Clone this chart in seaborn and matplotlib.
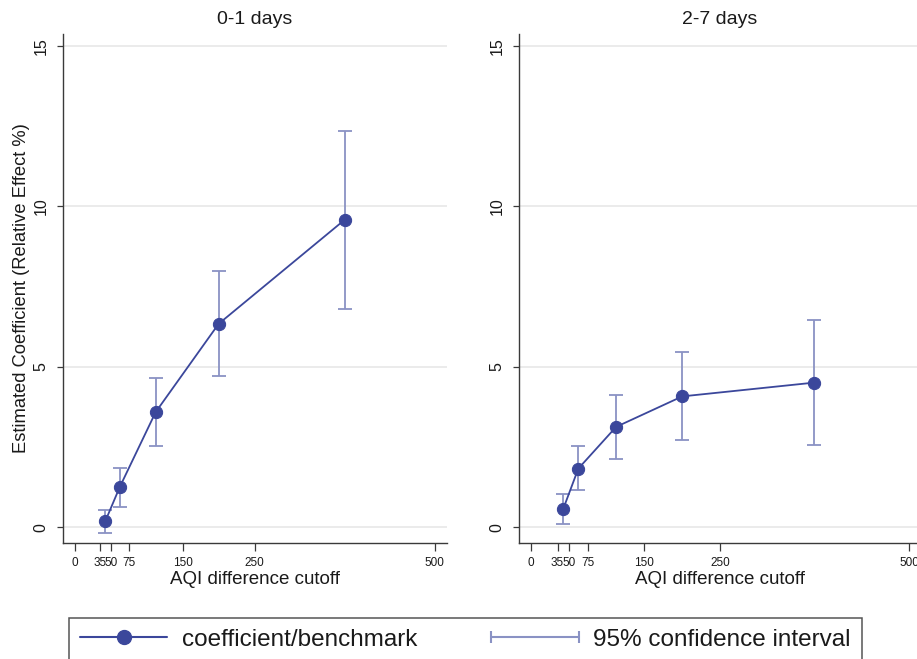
import numpy as np
import pandas as pd
import matplotlib
matplotlib.use("Agg")
import matplotlib.pyplot as plt
from matplotlib.lines import Line2D
from matplotlib.legend_handler import HandlerLine2D
import seaborn as sns

# AQI difference bins: tick marks and the point plotted for each bin
tick_values = [0, 35, 50, 75, 150, 250, 500]
tick_labels = ["0", "35", "50", "75", "150", "250", "500"]
bin_x = [42.5, 62.5, 112.5, 200, 375]

# 0-1 days
coef_01 = [0.19, 1.25, 3.59, 6.34, 9.58]
lo_01 = [-0.16, 0.65, 2.53, 4.71, 6.81]
hi_01 = [0.54, 1.85, 4.66, 7.97, 12.34]

# 2-7 days
coef_27 = [0.57, 1.83, 3.13, 4.08, 4.51]
lo_27 = [0.11, 1.15, 2.14, 2.71, 2.56]
hi_27 = [1.04, 2.53, 4.11, 5.46, 6.47]

panel_titles = ["0-1 days", "2-7 days"]
y_ticks = [0, 5, 10, 15]

sns.set_style("white")
plt.rcParams["font.family"] = ["Liberation Sans", "DejaVu Sans"]

LINE_C = "#3b479b"
CI_C = "#8a92c4"
TXT_C = "#1a1a1a"
SPINE_C = "#3a3a3a"

W, H = 917, 659
fig = plt.figure(figsize=(W / 100, H / 100), dpi=100)
fig.patch.set_facecolor("white")


def rect(x0, x1, y0=34.5, y1=542.5):
    return [x0 / W, 1 - y1 / H, (x1 - x0) / W, (y1 - y0) / H]


ax1 = fig.add_axes(rect(62.7, 446.7))
ax2 = fig.add_axes(rect(518.5, 921.6))

panels = [
    (ax1, coef_01, lo_01, hi_01),
    (ax2, coef_27, lo_27, hi_27),
]

for i, (ax, coef, lo, hi) in enumerate(panels):
    df = pd.DataFrame({"cutoff": bin_x, "coef": coef, "lo": lo, "hi": hi})
    yerr = np.vstack([df["coef"] - df["lo"], df["hi"] - df["coef"]])
    ax.errorbar(df["cutoff"], df["coef"], yerr=yerr, fmt="none",
                ecolor=CI_C, elinewidth=1.3, capsize=5, capthick=1.3,
                zorder=2)
    sns.lineplot(data=df, x="cutoff", y="coef", ax=ax, color=LINE_C,
                 linewidth=1.3, marker="o", markersize=8.8,
                 markeredgecolor=LINE_C, markerfacecolor=LINE_C,
                 sort=False, zorder=3, legend=False)

    ax.set_xlim(-16.6, 516.7)
    ax.set_ylim(-0.47, 15.35)
    ax.set_xticks(tick_values)
    ax.set_xticklabels(tick_labels)
    ax.set_yticks(y_ticks)
    ax.set_yticklabels([str(v) for v in y_ticks])

    ax.grid(axis="y", color="#e6e6e6", linewidth=1.1)
    ax.grid(axis="x", visible=False)
    ax.set_axisbelow(True)
    for side in ["top", "right"]:
        ax.spines[side].set_visible(False)
    for side in ["left", "bottom"]:
        ax.spines[side].set_color(SPINE_C)
        ax.spines[side].set_linewidth(1.0)

    ax.tick_params(axis="x", direction="out", length=6, width=0.9,
                   color=SPINE_C, pad=4.5, labelsize=8.5, labelcolor=TXT_C,
                   bottom=True)
    ax.tick_params(axis="y", direction="out", length=4, width=0.9,
                   color=SPINE_C, pad=6, labelsize=11.5, labelcolor=TXT_C,
                   labelrotation=90, left=True)
    for lab in ax.get_yticklabels():
        lab.set_va("center")

    ax.set_xlabel("AQI difference cutoff", fontsize=13.5, color=TXT_C,
                  labelpad=1.5)
    if i == 0:
        ax.set_ylabel("Estimated Coefficient (Relative Effect %)",
                      fontsize=13.2, color=TXT_C, labelpad=3)
    else:
        ax.set_ylabel("")

    cx = (ax.get_position().x0 + ax.get_position().x1) / 2
    fig.text(cx, 1 - 20 / H, panel_titles[i], ha="center", va="center",
             fontsize=14, color=TXT_C)

# Shared legend below the panels
coef_handle = Line2D([], [], color=LINE_C, linewidth=1.5, marker="o",
                     markersize=10, markerfacecolor=LINE_C,
                     markeredgecolor=LINE_C)
ci_handle = Line2D([], [], color=CI_C, linewidth=1.5, marker="|",
                   markersize=9, markeredgewidth=1.5)
leg = fig.legend(
    [coef_handle, ci_handle],
    ["coefficient/benchmark", "95% confidence interval"],
    loc="upper left",
    bbox_to_anchor=(69 / W, 1 - 617.7 / H, (861.7 - 69) / W, 0.0),
    mode="expand", ncol=2, borderaxespad=0, fontsize=17.5,
    handlelength=3.6, handletextpad=0.6, borderpad=0.45,
    fancybox=False, frameon=True,
    handler_map={ci_handle: HandlerLine2D(numpoints=2, marker_pad=0)},
)
leg.get_frame().set_edgecolor("#2a2a2a")
leg.get_frame().set_linewidth(1.1)
for t in leg.get_texts():
    t.set_color(TXT_C)

fig.savefig("out.png", dpi=100, facecolor="white")
